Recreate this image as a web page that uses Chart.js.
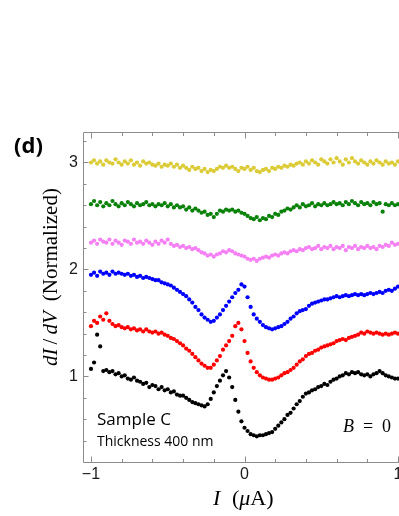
<!DOCTYPE html>
<html>
<head>
<meta charset="utf-8">
<script src="https://cdn.jsdelivr.net/npm/chart.js@4"></script>
<style>
  html, body { margin: 0; padding: 0; background: #fff; overflow: hidden; }
  #wrap { width: 440px; height: 516px; }
</style>
</head>
<body>
<div id="wrap"><canvas id="c" width="440" height="516"></canvas></div>
<script>
// ---- data: dI/dV vs I, curves offset vertically ----
const xs = [
  -1.00,-0.98,-0.96,-0.94,-0.92,-0.90,-0.88,-0.86,-0.84,-0.82,
  -0.80,-0.78,-0.76,-0.74,-0.72,-0.70,-0.68,-0.66,-0.64,-0.62,
  -0.60,-0.58,-0.56,-0.54,-0.52,-0.50,-0.48,-0.46,-0.44,-0.42,
  -0.40,-0.38,-0.36,-0.34,-0.32,-0.30,-0.28,-0.26,-0.24,-0.22,
  -0.20,-0.18,-0.16,-0.14,-0.12,-0.10,-0.08,-0.06,-0.04,-0.02,
   0.00, 0.02, 0.04, 0.06, 0.08, 0.10, 0.12, 0.14, 0.16, 0.18,
   0.20, 0.22, 0.24, 0.26, 0.28, 0.30, 0.32, 0.34, 0.36, 0.38,
   0.40, 0.42, 0.44, 0.46, 0.48, 0.50, 0.52, 0.54, 0.56, 0.58,
   0.60, 0.62, 0.64, 0.66, 0.68, 0.70, 0.72, 0.74, 0.76, 0.78,
   0.80, 0.82, 0.84, 0.86, 0.88, 0.90, 0.92, 0.94, 0.96, 0.98,
   1.00, 1.02, 1.04
];

const blackY = [
  1.07,1.13,1.39,1.28,1.05,1.06,1.04,1.05,1.02,1.03,
  1.00,1.01,0.98,0.97,0.99,0.96,0.95,0.93,0.94,0.90,
  0.92,0.91,0.88,0.90,0.87,0.88,0.85,0.86,0.83,0.82,
  0.82,0.80,0.78,0.76,0.75,0.74,0.73,0.72,0.74,0.79,
  0.85,0.91,0.96,1.01,1.05,0.99,0.90,0.78,0.67,0.58,
  0.52,0.49,0.46,0.45,0.44,0.45,0.45,0.46,0.47,0.48,
  0.51,0.54,0.57,0.60,0.64,0.66,0.70,0.74,0.77,0.81,
  0.84,0.85,0.87,0.88,0.90,0.91,0.93,0.92,0.95,0.97,
  0.98,1.00,1.01,1.03,1.02,1.04,1.03,1.04,1.02,1.01,
  1.02,1.00,1.02,1.03,1.05,1.03,1.01,1.00,0.99,0.98,
  0.98,0.99,0.97
];

const redY = [
  1.47,1.52,1.50,1.56,1.53,1.59,1.52,1.49,1.47,1.48,
  1.46,1.45,1.46,1.44,1.45,1.43,1.44,1.42,1.44,1.42,
  1.41,1.42,1.40,1.41,1.39,1.38,1.36,1.35,1.33,1.31,
  1.29,1.26,1.24,1.21,1.18,1.15,1.12,1.10,1.08,1.08,
  1.11,1.15,1.19,1.25,1.29,1.33,1.38,1.47,1.50,1.44,
  1.33,1.22,1.14,1.08,1.04,1.01,0.99,0.98,0.97,0.97,
  0.98,0.99,1.01,1.03,1.04,1.06,1.08,1.11,1.14,1.16,
  1.19,1.21,1.22,1.24,1.25,1.27,1.28,1.29,1.30,1.31,
  1.33,1.34,1.35,1.34,1.36,1.37,1.38,1.39,1.41,1.40,
  1.42,1.41,1.40,1.41,1.40,1.39,1.40,1.39,1.40,1.41,
  1.40,1.41,1.39
];

const blueY = [
  1.95,1.97,1.94,1.98,1.96,1.97,1.95,1.98,1.96,1.97,
  1.96,1.95,1.96,1.94,1.95,1.93,1.94,1.92,1.93,1.92,
  1.91,1.90,1.90,1.88,1.87,1.86,1.85,1.83,1.81,1.79,
  1.77,1.75,1.72,1.69,1.65,1.62,1.58,1.55,1.53,1.51,
  1.52,1.55,1.58,1.62,1.66,1.70,1.74,1.78,1.81,1.86,
  1.84,1.74,1.65,1.58,1.54,1.51,1.48,1.46,1.45,1.44,
  1.45,1.46,1.47,1.49,1.51,1.54,1.56,1.59,1.61,1.62,
  1.63,1.66,1.68,1.69,1.70,1.71,1.72,1.72,1.73,1.74,
  1.75,1.74,1.75,1.76,1.75,1.76,1.77,1.76,1.77,1.76,
  1.77,1.78,1.77,1.78,1.79,1.78,1.80,1.81,1.80,1.82,
  1.84,1.83,1.85
];

const pinkY = [
  2.25,2.27,2.24,2.28,2.26,2.25,2.28,2.24,2.27,2.25,
  2.23,2.27,2.26,2.24,2.28,2.25,2.26,2.24,2.27,2.25,
  2.23,2.26,2.24,2.27,2.25,2.28,2.24,2.22,2.23,2.21,
  2.22,2.20,2.21,2.19,2.20,2.18,2.16,2.15,2.13,2.14,
  2.12,2.14,2.15,2.17,2.16,2.18,2.17,2.15,2.14,2.13,
  2.12,2.10,2.09,2.10,2.08,2.10,2.11,2.12,2.11,2.13,
  2.14,2.13,2.15,2.16,2.15,2.17,2.18,2.17,2.19,2.18,
  2.20,2.21,2.19,2.20,2.22,2.19,2.21,2.20,2.22,2.19,
  2.21,2.20,2.22,2.18,2.21,2.20,2.22,2.19,2.21,2.20,
  2.22,2.20,2.21,2.19,2.22,2.21,2.23,2.22,2.25,2.23,
  2.24,2.22,2.24
];

const greenY = [
  2.61,2.64,2.60,2.63,2.59,2.62,2.60,2.64,2.61,2.59,
  2.62,2.60,2.63,2.61,2.59,2.62,2.60,2.61,2.63,2.60,
  2.61,2.59,2.61,2.60,2.62,2.59,2.61,2.58,2.60,2.58,
  2.59,2.56,2.58,2.55,2.57,2.55,2.53,2.54,2.51,2.52,
  2.49,2.52,2.55,2.54,2.56,2.55,2.56,2.54,2.55,2.53,
  2.52,2.50,2.48,2.47,2.49,2.46,2.48,2.47,2.50,2.49,
  2.52,2.51,2.54,2.55,2.57,2.56,2.58,2.60,2.58,2.61,
  2.59,2.60,2.62,2.59,2.61,2.60,2.62,2.60,2.61,2.63,
  2.61,2.62,2.60,2.63,2.61,2.64,2.62,2.60,2.63,2.61,
  2.62,2.60,2.63,2.61,2.62,2.54,2.61,2.60,2.62,2.60,
  2.61,2.59,2.61
];

const yellowY = [
  3.00,3.02,2.99,3.01,2.98,3.02,3.00,2.99,3.03,3.00,
  2.98,3.01,2.99,3.02,2.98,3.00,2.97,3.01,2.99,3.00,
  2.98,2.97,2.99,2.96,2.98,2.97,2.99,2.96,2.98,2.95,
  2.97,2.95,2.93,2.96,2.94,2.95,2.92,2.94,2.91,2.93,
  2.92,2.94,2.96,2.95,2.97,2.95,2.96,2.94,2.92,2.95,
  2.94,2.96,2.93,2.95,2.92,2.91,2.93,2.94,2.92,2.95,
  2.94,2.96,2.95,2.97,2.96,2.98,2.97,2.99,3.00,2.98,
  3.01,2.99,3.02,3.00,2.98,3.03,3.01,2.99,3.03,3.00,
  3.04,3.01,2.98,3.03,3.00,3.04,3.01,2.99,3.02,3.00,
  2.98,3.01,2.99,3.02,3.00,2.98,3.01,2.99,3.00,2.98,
  3.01,2.99,3.00
];

const seriesNames  = ['black', 'red', 'blue', 'pink', 'green', 'yellow'];
const seriesY      = [blackY, redY, blueY, pinkY, greenY, yellowY];
const seriesColors = ['#000000', '#ff0000', '#0000ff', '#f580f3', '#0a820a', '#dbcb36'];

const xRange = [-1.052, 1.052];
const yRange = [0.2, 3.285];
const xTicks = [-1, 0, 1];
const yTicks = [1, 2, 3];
const xMinor = [-0.8, -0.6, -0.4, -0.2, 0.2, 0.4, 0.6, 0.8];
const yMinor = [0.4, 0.6, 0.8, 1.2, 1.4, 1.6, 1.8, 2.2, 2.4, 2.6, 2.8, 3.2];

// ---- frame with inward ticks + labels (Mathematica look) ----
function drawRun(ctx, parts, u, v) {
  for (const [t, f, gap] of parts) {
    ctx.font = f;
    ctx.fillText(t, u, v);
    u += ctx.measureText(t).width + (gap || 0);
  }
  return u;
}
function runWidth(ctx, parts) {
  let w = 0;
  for (const [t, f, gap] of parts) { ctx.font = f; w += ctx.measureText(t).width + (gap || 0); }
  return w;
}

const framePlugin = {
  id: 'frame',
  afterDraw(chart) {
    const { ctx, chartArea: a, scales: { x, y } } = chart;
    ctx.save();
    ctx.strokeStyle = '#8c8c8c';
    ctx.lineWidth = 1;
    const L = Math.round(a.left) + 0.5, R = Math.round(a.right) + 0.5;
    const T = Math.round(a.top) + 0.5, B = Math.round(a.bottom) + 0.5;
    ctx.beginPath();
    ctx.moveTo(L, T); ctx.lineTo(R, T); ctx.lineTo(R, B); ctx.lineTo(L, B); ctx.closePath();
    // x ticks, bottom and top
    const xt = (v, len) => {
      const p = Math.round(x.getPixelForValue(v)) + 0.5;
      ctx.moveTo(p, B); ctx.lineTo(p, B - len);
      ctx.moveTo(p, T); ctx.lineTo(p, T + len);
    };
    xTicks.forEach(v => xt(v, 6));
    xMinor.forEach(v => xt(v, 3.5));
    // y ticks, left and right
    const yt = (v, len) => {
      const p = Math.round(y.getPixelForValue(v)) + 0.5;
      ctx.moveTo(L, p); ctx.lineTo(L + len, p);
      ctx.moveTo(R, p); ctx.lineTo(R - len, p);
    };
    yTicks.forEach(v => yt(v, 5));
    yMinor.forEach(v => yt(v, 3));
    ctx.stroke();

    ctx.fillStyle = '#000';
    ctx.textBaseline = 'alphabetic';
    ctx.textAlign = 'left';

    // panel letter and sample text
    ctx.font = 'bold 22px "Open Sans"';
    ctx.fillText('(d)', 14, 153);
    ctx.font = '17px "Open Sans"';
    ctx.fillText('Sample C', 97, 425);
    ctx.font = '14px "Open Sans"';
    ctx.fillText('Thickness 400 nm', 97, 446);

    // B = 0
    ctx.font = 'italic 18px "Liberation Serif"';
    ctx.fillText('B', 343, 432);
    ctx.font = '18px "Liberation Serif"';
    ctx.fillText('=', 363, 432);
    ctx.fillText('0', 382, 432);

    // x title: I (μA)
    ctx.font = 'italic 22px "Liberation Serif"';
    ctx.fillText('I', 213, 505);
    drawRun(ctx, [
      ['(', '22px "Liberation Serif"'],
      ['\u03bc', 'italic 22px "Liberation Serif"'],
      ['A)', '22px "Liberation Serif"']
    ], 232, 505);

    // y title: dI/dV (Normalized), rotated
    const it = 'italic 21px "Liberation Serif"', up = '21px "Liberation Serif"';
    const parts = [['dI', it, 4], ['/', up, 4], ['dV', it, 10], ['(Normalized)', up, 0]];
    ctx.translate(57, 277);
    ctx.rotate(-Math.PI / 2);
    drawRun(ctx, parts, -runWidth(ctx, parts) / 2, 0);
    ctx.restore();
  }
};

const tickFmt = v => (v < 0 ? '\u2212' + Math.abs(v) : String(v));

new Chart(document.getElementById('c'), {
  type: 'scatter',
  data: {
    datasets: seriesY.map((ys, k) => ({
      label: seriesNames[k],
      data: xs.map((xv, i) => ({ x: xv, y: ys[i] })),
      backgroundColor: seriesColors[k],
      borderWidth: 0,
      pointRadius: 2.1,
      pointHoverRadius: 2.1
    }))
  },
  options: {
    responsive: false,
    animation: false,
    devicePixelRatio: 1,
    events: [],
    layout: { padding: { left: 0, top: 132, right: 34, bottom: 0 } },
    plugins: { legend: { display: false }, tooltip: { enabled: false } },
    scales: {
      x: {
        type: 'linear', min: xRange[0], max: xRange[1],
        afterFit(s) { s.height = 54; s.paddingLeft = 0; s.paddingRight = 0; },
        afterBuildTicks(s) { s.ticks = xTicks.map(v => ({ value: v })); },
        grid: { display: false, drawTicks: false },
        border: { display: false },
        ticks: { padding: 3, color: '#1a1a1a', maxRotation: 0, autoSkip: false,
                 font: { family: 'Liberation Sans', size: 16 }, callback: tickFmt }
      },
      y: {
        type: 'linear', min: yRange[0], max: yRange[1],
        afterFit(s) { s.width = 83; s.paddingTop = 0; s.paddingBottom = 0; },
        afterBuildTicks(s) { s.ticks = yTicks.map(v => ({ value: v })); },
        grid: { display: false, drawTicks: false },
        border: { display: false },
        ticks: { padding: 5, color: '#1a1a1a', autoSkip: false,
                 font: { family: 'Liberation Sans', size: 16 }, callback: tickFmt }
      }
    }
  },
  plugins: [framePlugin]
});
</script>
</body>
</html>
